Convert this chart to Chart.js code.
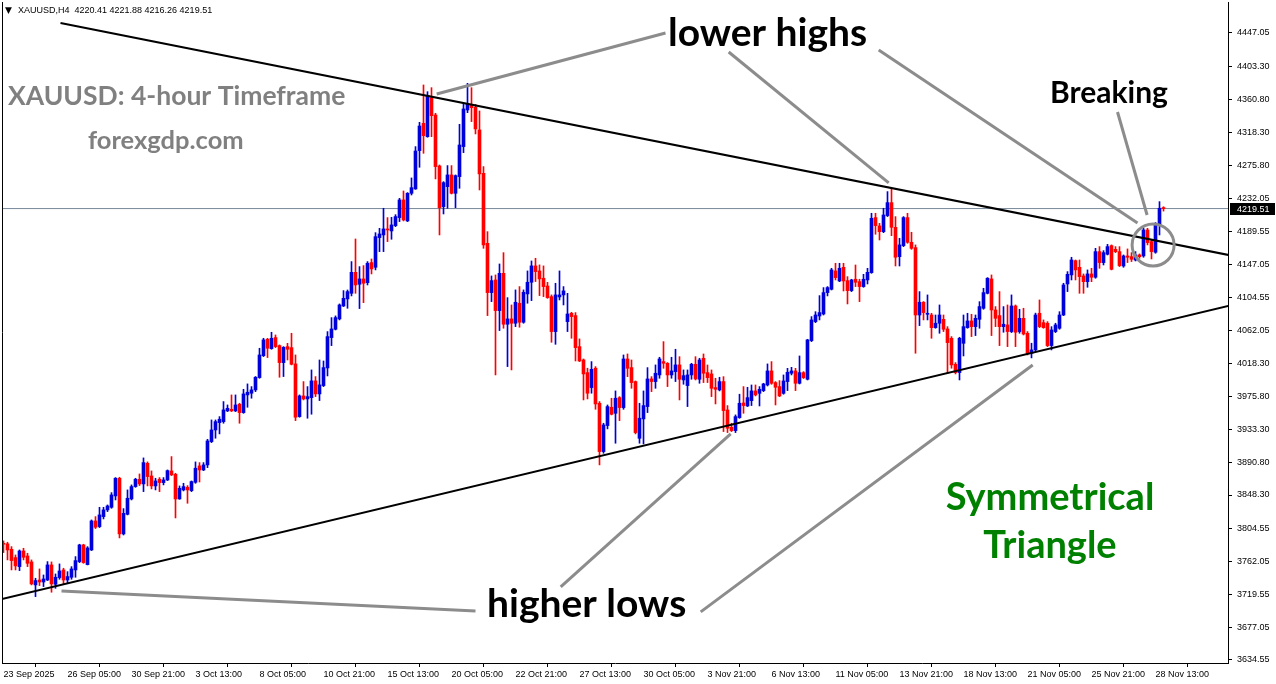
<!DOCTYPE html>
<html>
<head>
<meta charset="utf-8">
<script src="https://cdn.jsdelivr.net/npm/chart.js@4.4.1/dist/chart.umd.min.js"></script>
<style>
  html, body { margin: 0; padding: 0; background: #fff; }
  #wrap { position: relative; width: 1276px; height: 684px; }
</style>
</head>
<body>
<div id="wrap"><canvas id="chart" width="1276" height="684"></canvas></div>
<script>
// XAUUSD H4 candles, 23 Sep 2025 -> 28 Nov 2025
const opens = [
3785.8,3785.0,3778.0,3767.2,3755.5,3775.8,3769.3,3761.6,3731.8,3738.2,3735.6,3738.2,3757.7,3732.6,3741.3,3751.2,3738.2,3741.7,3751.2,3762.0,
3783.6,3758.1,3777.1,3814.7,3807.4,3820.3,3829.0,3832.4,3847.1,3870.0,3797.9,3823.3,3843.2,3859.2,3868.7,3862.7,3889.4,3873.0,3860.1,3868.7,
3864.4,3867.8,3879.5,3875.2,3843.2,3854.9,3858.3,3854.0,3864.8,3886.0,3880.8,3887.3,3917.5,3932.6,3942.1,3943.4,3957.3,3959.4,3957.3,3965.9,
3955.1,3978.0,3980.2,3984.5,4000.5,4028.9,4050.1,4038.0,4052.3,4041.9,4019.9,4040.6,4039.3,4018.2,3949.9,3976.7,3972.8,3974.5,3996.2,3979.3,
3990.1,4013.0,4052.3,4063.1,4076.5,4093.3,4102.4,4109.7,4136.9,4121.4,4128.3,4123.5,4149.5,4143.4,4181.9,4185.3,4193.1,4190.5,4197.4,4207.8,
4230.7,4203.5,4239.3,4244.9,4294.6,4330.0,4312.7,4363.3,4340.8,4274.7,4222.0,4247.9,4263.1,4239.3,4260.9,4299.8,4347.3,4354.6,4350.7,4321.4,
4265.2,4174.5,4110.6,4127.0,4087.3,4135.6,4069.6,4076.5,4070.9,4096.8,4072.2,4108.9,4124.0,4145.2,4138.7,4129.2,4119.2,4105.4,4060.1,4105.0,
4107.6,4073.0,4083.8,4080.8,4040.6,4023.4,4006.9,3987.5,4012.6,3967.2,3904.6,3938.3,3962.0,3954.2,3974.5,3961.6,4024.6,4013.4,3995.3,3921.8,
3946.9,3962.9,3998.7,3995.3,4003.9,4021.2,4019.0,4003.9,4008.2,4016.9,3997.4,3990.1,4003.9,4017.7,3998.3,4025.5,4006.9,4005.2,3987.5,3984.5,
3995.3,3958.5,3936.1,3931.8,3948.6,3967.6,3963.7,3970.6,3983.2,3980.1,3983.6,3990.9,4009.1,3994.0,3988.8,3980.1,3995.3,4006.1,4009.1,3993.1,
4006.9,3998.3,4048.4,4073.0,4080.3,4082.9,4110.6,4114.9,4138.7,4125.7,4143.4,4126.1,4113.2,4127.9,4124.8,4118.4,4127.0,4136.5,4207.8,4197.0,
4189.6,4210.4,4227.2,4195.2,4157.2,4171.5,4207.8,4175.8,4168.9,4081.6,4098.1,4082.5,4081.6,4065.2,4070.9,4076.0,4063.5,4051.4,4017.7,4007.0,
4044.9,4065.2,4073.9,4066.5,4076.0,4090.3,4109.7,4128.3,4088.1,4080.8,4066.5,4068.7,4060.1,4093.3,4060.1,4077.3,4057.9,4032.0,4036.3,4083.8,
4071.7,4070.9,4042.0,4060.1,4064.4,4081.6,4121.8,4133.5,4152.0,4143.4,4132.2,4124.8,4134.8,4130.5,4163.7,4149.5,4160.3,4171.5,4166.7,4163.7,
4145.1,4158.1,4157.2,4152.9,4159.4,4158.1,4191.8,4176.7,4162.9,4198.3,4220.41
];
const highs = [
3788.8,3787.1,3781.4,3770.6,3777.1,3779.3,3772.8,3764.2,3740.4,3752.5,3744.7,3762.0,3761.6,3746.0,3759.0,3753.4,3749.0,3755.5,3768.5,3784.5,
3784.5,3781.4,3816.0,3820.3,3832.4,3832.4,3835.4,3851.4,3870.9,3871.3,3830.7,3854.9,3861.4,3870.0,3875.6,3896.4,3891.2,3879.5,3870.0,3870.9,
3870.9,3880.8,3898.1,3876.5,3860.1,3863.5,3860.5,3866.5,3891.2,3890.3,3890.3,3920.5,3945.6,3945.6,3949.9,3969.4,3965.0,3978.0,3978.0,3967.2,
3985.3,3992.3,3988.8,4001.8,4038.5,4051.4,4051.4,4059.2,4055.7,4042.8,4040.6,4044.9,4057.9,4029.8,3978.0,3995.3,3988.8,4010.4,4001.8,4023.3,
4022.0,4060.1,4078.2,4080.4,4095.9,4113.2,4114.0,4150.8,4180.1,4144.3,4145.6,4150.8,4154.2,4188.3,4193.9,4219.9,4207.8,4208.2,4211.6,4232.8,
4242.3,4240.2,4259.2,4299.8,4331.3,4379.7,4371.0,4376.2,4343.0,4276.0,4254.4,4275.2,4275.2,4263.1,4328.7,4355.9,4381.8,4376.2,4354.6,4346.0,
4273.9,4189.6,4132.2,4133.5,4147.7,4162.4,4104.1,4094.6,4114.1,4118.4,4114.1,4138.7,4151.6,4155.1,4146.5,4145.2,4123.9,4107.6,4122.7,4138.7,
4118.4,4109.7,4085.1,4084.7,4050.6,4024.6,4012.6,4021.2,4014.7,3969.4,3941.3,3965.0,3973.7,3983.2,3975.8,4029.8,4031.1,4023.3,3996.1,3967.2,
3983.2,4013.4,4001.7,4016.9,4026.8,4047.1,4019.9,4026.8,4037.2,4027.6,4010.4,4010.4,4019.0,4027.6,4025.5,4031.1,4016.8,4010.4,3999.6,4000.9,
4001.7,3964.2,3941.3,3952.1,3978.9,3988.8,3987.9,3990.9,3990.9,3988.8,3993.1,4018.2,4021.2,3995.3,3996.6,4003.9,4012.5,4013.8,4012.5,4028.5,
4008.2,4050.1,4079.5,4085.9,4106.7,4117.1,4118.4,4142.1,4148.6,4148.6,4148.6,4131.3,4127.9,4146.4,4127.9,4134.3,4142.1,4213.4,4213.4,4200.4,
4219.9,4241.5,4245.8,4209.1,4181.0,4209.1,4213.4,4188.8,4172.4,4111.9,4099.0,4107.6,4083.8,4081.6,4094.6,4081.6,4066.5,4053.6,4019.9,4052.7,
4081.6,4083.8,4082.5,4081.6,4098.9,4116.2,4130.0,4133.5,4092.5,4111.9,4092.5,4094.6,4107.6,4094.6,4089.0,4090.3,4060.1,4045.0,4084.0,4101.1,
4075.2,4073.0,4066.5,4070.9,4085.9,4122.7,4137.8,4156.4,4152.9,4152.9,4134.8,4140.0,4142.1,4168.0,4170.2,4165.0,4173.2,4172.4,4170.2,4170.2,
4159.4,4167.2,4162.4,4163.7,4160.7,4193.9,4193.9,4178.0,4201.3,4228.5,4221.88
];
const lows = [
3773.7,3764.2,3751.2,3751.2,3750.3,3764.2,3755.5,3731.8,3716.6,3730.9,3729.6,3737.4,3722.3,3727.4,3739.1,3733.1,3733.9,3739.1,3741.7,3760.7,
3759.8,3757.7,3776.3,3804.8,3806.1,3817.3,3826.8,3831.1,3841.9,3792.7,3796.5,3822.5,3841.9,3858.3,3860.5,3852.7,3860.1,3856.2,3854.9,3852.7,
3861.4,3867.0,3873.5,3818.6,3842.8,3853.6,3837.6,3852.7,3863.5,3865.2,3879.9,3883.8,3916.2,3921.9,3927.5,3941.3,3956.4,3956.4,3956.4,3941.3,
3954.2,3962.0,3973.7,3982.3,3999.6,4027.7,4026.4,4037.2,4039.3,4000.9,4001.8,4023.3,4016.9,3944.7,3949.1,3971.5,3947.8,3953.0,3975.8,3970.7,
3988.8,4002.6,4041.9,4062.2,4075.2,4092.5,4090.3,4106.3,4109.7,4089.9,4097.6,4120.5,4134.8,4140.0,4163.7,4163.7,4176.7,4179.7,4196.1,4202.6,
4203.5,4202.6,4237.1,4244.5,4273.0,4291.1,4311.9,4312.7,4257.9,4185.3,4212.5,4219.9,4238.4,4220.7,4245.8,4292.0,4343.8,4332.2,4316.2,4243.6,
4168.0,4080.8,4098.9,4003.9,4061.4,4064.4,4014.7,4010.4,4066.5,4065.7,4070.9,4096.8,4100.2,4124.9,4106.7,4105.4,4103.2,4046.2,4043.6,4101.1,
4094.6,4060.1,4051.4,4022.0,4021.2,3971.5,3972.8,3980.2,3959.4,3887.3,3902.4,3934.0,3952.1,3915.4,3944.7,3959.4,4001.7,3986.6,3927.5,3915.4,
3914.5,3955.1,3982.3,3986.6,3999.6,4012.5,3988.8,3999.6,3995.3,3971.5,3991.8,3962.9,3998.3,3997.4,3993.1,3994.0,3994.0,3975.8,3966.3,3983.2,
3930.5,3929.2,3930.5,3929.2,3947.7,3954.2,3962.9,3964.2,3976.7,3963.7,3982.3,3989.6,3991.8,3965.0,3975.8,3978.9,3983.6,4003.9,3983.6,3992.2,
3999.2,3997.4,4047.1,4071.7,4075.2,4081.6,4106.3,4114.0,4127.0,4124.8,4112.7,4095.9,4111.9,4118.4,4098.9,4117.5,4121.8,4135.6,4186.2,4178.8,
4188.3,4209.1,4184.4,4145.1,4145.1,4170.2,4174.5,4166.7,4032.0,4067.8,4075.2,4075.2,4051.4,4064.4,4057.9,4060.1,4006.1,4012.6,4005.2,3997.4,
4028.5,4064.4,4053.6,4054.9,4064.4,4089.0,4108.9,4054.9,4066.5,4041.9,4059.2,4040.6,4058.8,4040.6,4057.9,4055.7,4029.8,4026.0,4034.1,4065.2,
4064.4,4040.6,4036.3,4058.8,4063.1,4080.8,4111.9,4127.0,4127.0,4109.7,4109.7,4117.5,4124.8,4129.2,4142.1,4146.4,4159.4,4140.0,4162.4,4144.3,
4143.4,4149.5,4150.8,4151.6,4155.1,4156.4,4172.4,4154.2,4161.6,4185.3,4216.26
];
const closes = [
3784.5,3777.1,3763.3,3756.4,3775.8,3767.6,3759.8,3733.1,3737.4,3735.6,3739.5,3757.7,3733.1,3741.7,3749.9,3738.2,3742.6,3752.5,3763.3,3783.6,
3760.7,3779.7,3814.7,3806.5,3822.5,3829.0,3834.1,3848.4,3870.0,3797.9,3824.6,3844.1,3859.2,3868.7,3862.7,3890.3,3872.2,3860.1,3866.5,3864.4,
3867.8,3879.9,3874.3,3843.2,3857.0,3859.2,3854.9,3865.7,3883.0,3880.8,3887.3,3918.4,3932.6,3943.4,3946.5,3958.6,3960.7,3957.3,3965.0,3955.1,
3979.3,3981.5,3984.5,4000.9,4029.8,4049.3,4038.5,4051.4,4040.6,4019.9,4039.7,4037.2,4017.7,3949.1,3976.7,3972.8,3975.8,3996.2,3979.3,3991.0,
4013.4,4053.6,4063.5,4078.2,4094.6,4103.2,4111.9,4136.9,4120.5,4128.3,4122.7,4148.6,4141.3,4183.1,4186.6,4193.1,4191.8,4198.3,4209.1,4230.7,
4204.8,4239.3,4246.6,4294.1,4326.5,4314.0,4365.9,4339.9,4273.9,4220.7,4253.1,4263.1,4239.3,4262.2,4301.9,4348.6,4354.6,4350.3,4322.7,4264.4,
4172.4,4110.6,4126.1,4087.3,4135.6,4069.6,4076.5,4070.9,4098.1,4072.2,4111.0,4124.0,4145.2,4137.8,4128.3,4118.4,4104.1,4060.1,4107.6,4107.6,
4112.8,4082.9,4079.5,4039.3,4022.0,4005.2,3980.2,4011.2,3966.3,3904.6,3939.1,3962.9,3952.9,3973.7,3961.6,4024.6,4012.5,3994.0,3929.2,3947.8,
3964.2,3998.7,3995.3,4006.1,4024.6,4019.0,4003.9,4009.1,4016.9,3998.3,4003.0,4003.9,4017.7,3998.7,4023.3,4006.1,4000.4,3986.6,3985.3,3995.3,
3957.7,3934.8,3931.8,3949.9,3967.2,3964.2,3974.5,3983.2,3978.0,3985.3,3992.2,4009.1,3993.1,3987.9,3976.7,3996.1,4007.4,4009.1,3993.1,4006.9,
4000.4,4049.3,4075.2,4081.6,4084.7,4110.6,4117.1,4140.0,4130.0,4142.1,4125.7,4113.2,4127.0,4124.0,4118.4,4127.9,4136.9,4206.9,4197.4,4189.6,
4211.2,4227.2,4195.2,4156.4,4172.4,4207.8,4175.8,4168.0,4081.6,4098.1,4084.7,4083.8,4065.2,4070.9,4081.6,4063.1,4045.8,4016.9,4007.0,4051.4,
4066.5,4073.9,4066.5,4077.3,4092.5,4110.6,4129.2,4088.1,4077.3,4066.5,4069.6,4060.1,4093.3,4059.2,4077.3,4057.0,4032.0,4036.3,4081.6,4066.5,
4065.2,4041.9,4062.2,4068.7,4081.6,4120.5,4134.3,4152.9,4140.0,4131.3,4124.8,4134.8,4130.5,4163.7,4149.5,4162.4,4170.2,4140.8,4163.7,4145.6,
4158.1,4156.4,4153.8,4159.4,4157.2,4191.8,4175.4,4163.7,4199.6,4219.9,4219.51
];

// axis ticks as MT4 printed them
const priceTicks = [4447.05,4403.30,4360.80,4318.30,4275.80,4232.05,4189.55,4147.05,4104.55,4062.05,
                    4018.30,3975.80,3933.30,3890.80,3848.30,3804.55,3762.05,3719.55,3677.05,3634.55];
const timeLabels = ["23 Sep 2025","26 Sep 05:00","30 Sep 21:00","3 Oct 13:00","8 Oct 05:00","10 Oct 21:00",
                    "15 Oct 13:00","20 Oct 05:00","22 Oct 21:00","27 Oct 13:00","30 Oct 05:00","3 Nov 21:00",
                    "6 Nov 13:00","11 Nov 05:00","13 Nov 21:00","18 Nov 13:00","21 Nov 05:00","25 Nov 21:00","28 Nov 13:00"];
const timeLabelBars = [0,16,32,48,64,80,96,112,128,144,160,176,192,208,224,240,256,272,288];
const lastPrice = 4219.51;

// trend lines drawn on the chart: [barIndex, price]
const upperTrend = [[14.25, 4460.0], [306.2, 4159.4]];
const lowerTrend = [[-0.4, 3713.6], [306.2, 4093.3]];
// grey pointer lines
const pointers = [
  [[165.5, 4447.0], [108.3, 4368.0]],
  [[181.3, 4422.4], [221.3, 4252.7]],
  [[218.8, 4425.0], [283.5, 4200.8]],
  [[278.5, 4344.7], [285.9, 4211.2]],
  [[14.5, 3724.0], [118.0, 3698.1]],
  [[139.3, 3729.2], [181.8, 3927.4]],
  [[174.3, 3696.8], [257.3, 4016.8]]
];
const breakCircle = [287.4, 4172.3];

const BULL = "#0000d8";
const BEAR = "#ff0000";
const idx = opens.map((_, i) => i);
const candleColor = idx.map(i => closes[i] >= opens[i] ? BULL : BEAR);

const toPts = seg => seg.map(p => ({ x: p[0], y: p[1] }));

const datasets = [
  {
    type: "bar", label: "wick", order: 10, grouped: false,
    data: idx.map(i => ({ x: i, y: [lows[i], highs[i]] })),
    backgroundColor: candleColor, barThickness: 1, borderWidth: 0
  },
  {
    type: "bar", label: "body", order: 9, grouped: false,
    data: idx.map(i => ({ x: i, y: [opens[i], closes[i]] })),
    backgroundColor: candleColor, barThickness: 3, borderWidth: 0, minBarLength: 1
  },
  {
    type: "line", label: "bid", order: 11,
    data: [{ x: -1, y: lastPrice }, { x: 320, y: lastPrice }],
    borderColor: "#778899", borderWidth: 1, pointRadius: 0
  },
  {
    type: "line", label: "upper", order: 2, data: toPts(upperTrend),
    borderColor: "#000", borderWidth: 2, pointRadius: 0
  },
  {
    type: "line", label: "lower", order: 2, data: toPts(lowerTrend),
    borderColor: "#000", borderWidth: 2, pointRadius: 0
  }
];
pointers.forEach((seg, k) => datasets.push({
  type: "line", label: "ptr" + k, order: 1, data: toPts(seg),
  borderColor: "#8c8c8c", borderWidth: 3, pointRadius: 0, clip: false
}));

const overlay = {
  id: "overlay",
  beforeDraw(chart) {
    const c = chart.ctx;
    c.save();
    c.fillStyle = "#fff";
    c.fillRect(0, 0, chart.width, chart.height);
    c.restore();
  },
  afterDraw(chart) {
    const c = chart.ctx, a = chart.chartArea;
    const xs = chart.scales.x, ys = chart.scales.y;
    c.save();
    // left frame
    c.strokeStyle = "#000"; c.lineWidth = 1;
    c.beginPath(); c.moveTo(a.left + 0.5, a.top); c.lineTo(a.left + 0.5, a.bottom); c.stroke();

    // circle round the break
    c.strokeStyle = "#8c8c8c"; c.lineWidth = 3;
    c.beginPath();
    c.arc(xs.getPixelForValue(breakCircle[0]), ys.getPixelForValue(breakCircle[1]), 21, 0, Math.PI * 2);
    c.stroke();

    // last price box
    const py = Math.round(ys.getPixelForValue(lastPrice));
    c.fillStyle = "#000";
    c.fillRect(a.right + 2, py - 6, 45, 12);
    c.fillStyle = "#fff";
    c.font = "9px 'Liberation Sans'";
    c.textBaseline = "middle";
    c.fillText(lastPrice.toFixed(2), a.right + 9, py + 0.5);

    // header
    c.fillStyle = "#000";
    c.font = "9px 'DejaVu Sans'";
    c.fillText("\u25BC", 5, 11);
    c.font = "9px 'Liberation Sans'";
    c.fillText("XAUUSD,H4  4220.41 4221.88 4216.26 4219.51", 18, 11);

    // captions
    c.textBaseline = "alphabetic";
    c.fillStyle = "#000";
    c.font = "bold 39px Lato";
    c.fillText("lower highs", 668, 46);
    c.fillText("higher lows", 487, 617);
    c.font = "bold 30px Lato";
    c.fillText("Breaking", 1050, 103);

    c.fillStyle = "#808080";
    c.font = "bold 26.5px Lato";
    c.fillText("XAUUSD: 4-hour Timeframe", 8, 105);
    c.font = "bold 25.5px Lato";
    c.fillText("forexgdp.com", 88, 149);

    c.fillStyle = "#008000";
    c.font = "bold 38px Lato";
    c.textAlign = "center";
    c.fillText("Symmetrical", 1050, 510);
    c.fillText("Triangle", 1050, 558);
    c.restore();
  }
};

new Chart(document.getElementById("chart"), {
  type: "bar",
  data: { datasets },
  options: {
    responsive: false,
    animation: false,
    events: [],
    layout: { padding: { left: 2, top: 2, right: 0, bottom: 0 } },
    plugins: { legend: { display: false }, tooltip: { enabled: false } },
    scales: {
      x: {
        type: "linear",
        min: -0.375, max: 306.125,
        offset: false,
        afterBuildTicks: s => { s.ticks = timeLabelBars.map(v => ({ value: v })); },
        afterFit: s => { s.height = 21; s.paddingLeft = 0; s.paddingRight = 0; },
        ticks: {
          autoSkip: false, maxRotation: 0, minRotation: 0, align: "start",
          padding: 2, color: "#000",
          font: { family: "Liberation Sans", size: 9 },
          callback: v => timeLabels[timeLabelBars.indexOf(v)] || ""
        },
        grid: { drawOnChartArea: false, drawTicks: true, tickLength: 4, color: "#000" },
        border: { display: true, color: "#000", width: 1 }
      },
      y: {
        type: "linear",
        position: "right",
        min: 3630.6, max: 4487.2,
        afterBuildTicks: s => { s.ticks = priceTicks.map(v => ({ value: v })); },
        afterFit: s => { s.width = 48; s.paddingTop = 0; s.paddingBottom = 0; },
        ticks: {
          padding: 5, color: "#000", crossAlign: "near",
          font: { family: "Liberation Sans", size: 9 },
          callback: v => v.toFixed(2)
        },
        grid: { drawOnChartArea: false, drawTicks: true, tickLength: 4, color: "#000" },
        border: { display: true, color: "#000", width: 1 }
      }
    }
  },
  plugins: [overlay]
});
</script>
</body>
</html>
